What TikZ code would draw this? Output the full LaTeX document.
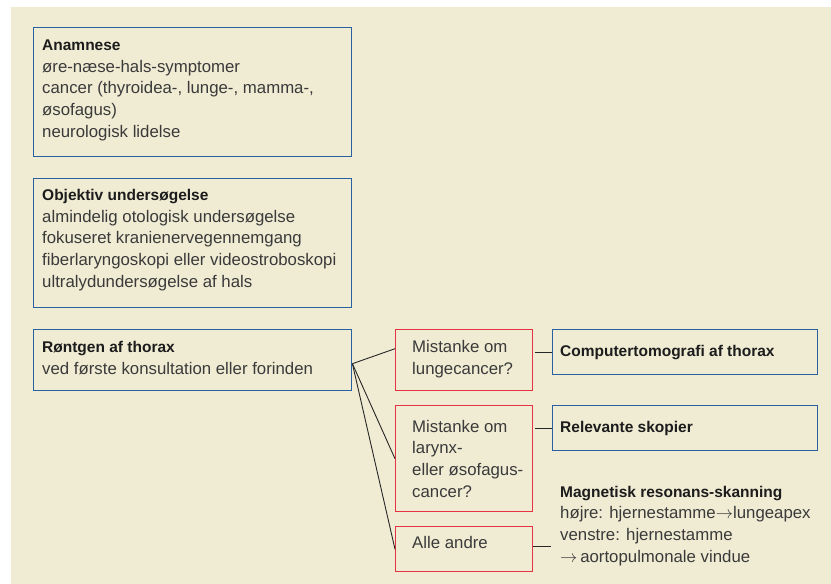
\documentclass[tikz,border=0pt]{standalone}
\usepackage{fontspec}
\setmainfont{Liberation Sans}
\usetikzlibrary{calc}
\definecolor{bgc}{RGB}{240,236,212}
\definecolor{boxblue}{RGB}{40,96,160}
\definecolor{boxred}{RGB}{228,50,66}
\definecolor{bodytxt}{RGB}{58,58,58}
\definecolor{titletxt}{RGB}{28,28,28}
\newcommand{\ttl}[1]{{\fontsize{15.5}{21.8}\selectfont\bfseries\color{titletxt}#1}}
\begin{document}
\begin{tikzpicture}[x=1pt,y=-1pt,
  bbox/.style={draw=boxblue,line width=1.4pt,inner sep=0pt,anchor=north west},
  rbox/.style={draw=boxred,line width=1.4pt,inner sep=0pt,anchor=north west},
  txt/.style={inner sep=0pt,anchor=base west,align=left,text=bodytxt,
    font=\fontsize{16.8}{21.8}\selectfont},
  conn/.style={draw=black!85,line width=0.9pt}]
\useasboundingbox (0,0) rectangle (831,584);
\fill[bgc] (11,7) rectangle (831,584);
% left column (text nodes anchored at the baseline of their last line)
\node[bbox,minimum width=318pt,minimum height=129pt] (anam) at (33,27) {};
\node[txt] (anamt) at (42,137.5) {\ttl{Anamnese}\\øre-næse-hals-symptomer\\cancer (thyroidea-, lunge-, mamma-,\\øsofagus)\\neurologisk lidelse};
\node[bbox,minimum width=318pt,minimum height=129pt] (obj) at (33,178) {};
\node[txt] (objt) at (42,287.5) {\ttl{Objektiv undersøgelse}\\almindelig otologisk undersøgelse\\fokuseret kranienervegennemgang\\fiberlaryngoskopi eller videostroboskopi\\ultralydundersøgelse af hals};
\node[bbox,minimum width=318pt,minimum height=61pt] (rtg) at (33,329) {};
\node[txt] (rtgt) at (42,374) {\ttl{Røntgen af thorax}\\ved første konsultation eller forinden};
% questions
\node[rbox,minimum width=137pt,minimum height=61pt] (q1) at (395,329) {};
\node[txt] (q1t) at (412,374) {Mistanke om\\lungecancer?};
\node[rbox,minimum width=137pt,minimum height=106pt] (q2) at (395,405) {};
\node[txt] (q2t) at (412,497.5) {Mistanke om\\larynx-\\eller øsofagus-\\cancer?};
\node[rbox,minimum width=137pt,minimum height=45pt] (q3) at (395,526) {};
\node[txt] (q3t) at (412,548) {Alle andre};
% results
\node[bbox,minimum width=265pt,minimum height=45pt] (ct) at (552,329) {};
\node[txt] (ctt) at (560,356) {\ttl{Computertomografi af thorax}};
\node[bbox,minimum width=265pt,minimum height=45pt] (rel) at (552,405) {};
\node[txt] (relt) at (560,432) {\ttl{Relevante skopier}};
\node[txt,inner xsep=9pt] (mr) at (551,562.5) {\ttl{Magnetisk resonans-skanning}\\højre: hjernestamme$\rightarrow$lungeapex\\venstre: hjernestamme\\$\rightarrow$\,aortopulmonale vindue};
% connectors
\coordinate (hub) at ($(rtg.east)+(0,3.5)$);
\draw[conn] (hub) -- ($(q1.west)+(0,-11.5)$);
\draw[conn] (hub) -- (q2.west);
\draw[conn] (hub) -- (q3.west);
\draw[conn] ($(q1.east |- ct.west)+(1.5,0)$) -- (ct.west);
\draw[conn] ($(q2.east |- rel.west)+(1.5,0)$) -- (rel.west);
\coordinate (mrin) at (551,546);
\draw[conn] (q3.east |- mrin) -- (mrin);
\end{tikzpicture}
\end{document}
